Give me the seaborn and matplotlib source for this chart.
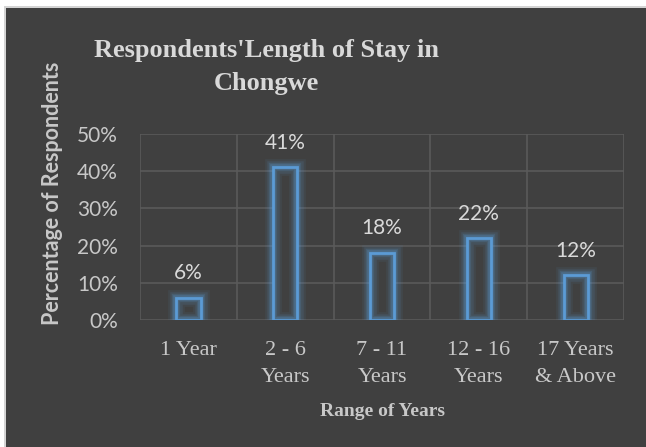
import matplotlib
matplotlib.use("Agg")
import matplotlib.pyplot as plt
import matplotlib.patches as mpatches
from matplotlib.ticker import FixedLocator, PercentFormatter
import seaborn as sns
import pandas as pd

# Data
categories = ["1 Year", "2 - 6\nYears", "7 - 11\nYears", "12 - 16\nYears", "17 Years\n& Above"]
percentages = [6, 41, 18, 22, 12]
y_ticks = [0, 10, 20, 30, 40, 50]

bg = "#404040"
grid_col = "#5a5a5a"
bar_col = "#5b9bd5"
text_col = "#d9d9d9"
tick_col = "#c8c8c8"

df = pd.DataFrame({"range": categories, "pct": percentages})

sns.set_style("dark")
fig = plt.figure(figsize=(6.46, 4.47), dpi=100)
fig.patch.set_facecolor(bg)
# white margin + thin light border on top / left
fig.add_artist(mpatches.Rectangle((0, 441 / 447), 1, 1, transform=fig.transFigure,
                                  facecolor="white", edgecolor="none", zorder=-2))
fig.add_artist(mpatches.Rectangle((0, 0), 4 / 646, 1, transform=fig.transFigure,
                                  facecolor="white", edgecolor="none", zorder=-2))
fig.add_artist(mpatches.Rectangle((4 / 646, 439 / 447), 1, 2 / 447, transform=fig.transFigure,
                                  facecolor="#d4d4d4", edgecolor="none", zorder=-1))
fig.add_artist(mpatches.Rectangle((4 / 646, 0), 2 / 646, 441 / 447, transform=fig.transFigure,
                                  facecolor="#d4d4d4", edgecolor="none", zorder=-1))

ax = fig.add_axes([140 / 646, 1 - 320 / 447, 484 / 646, 186 / 447])
ax.set_facecolor(bg)

sns.barplot(data=df, x="range", y="pct", ax=ax, width=0.25,
            facecolor=bg, edgecolor=bar_col, linewidth=2, zorder=3)

# soft glow around each bar
for p in list(ax.patches):
    p.set_facecolor("none")
    ax.add_patch(mpatches.Rectangle(p.get_xy(), p.get_width(), p.get_height(),
                                    facecolor=bg, edgecolor="none", zorder=1))
    for lw, a in [(12, 0.08), (9, 0.12), (6, 0.18), (4, 0.25)]:
        ax.add_patch(mpatches.Rectangle(p.get_xy(), p.get_width(), p.get_height(),
                                        facecolor="none", edgecolor=bar_col,
                                        linewidth=lw, alpha=a, zorder=2))

for i, v in enumerate(percentages):
    ax.text(i, v + 6.6, f"{v}%", ha="center", va="center",
            fontsize=15, color=text_col, family="Lato")

ax.set_xlim(-0.5, len(categories) - 0.5)
ax.set_ylim(0, 50)
ax.yaxis.set_major_locator(FixedLocator(y_ticks))
ax.yaxis.set_major_formatter(PercentFormatter(decimals=0))
ax.xaxis.set_minor_locator(FixedLocator([i - 0.5 for i in range(len(categories) + 1)]))
ax.grid(axis="y", which="major", color=grid_col, linewidth=1.2, zorder=0)
ax.grid(axis="x", which="minor", color=grid_col, linewidth=1.2, zorder=0)
ax.grid(axis="x", which="major", visible=False)
ax.set_axisbelow(True)
ax.tick_params(axis="both", which="both", length=0)
ax.tick_params(axis="y", pad=16, labelcolor=tick_col, labelsize=15)
ax.tick_params(axis="x", pad=15, labelcolor=tick_col, labelsize=16)
for lbl in ax.get_yticklabels():
    lbl.set_family("Lato")
for lbl in ax.get_xticklabels():
    lbl.set_family("Liberation Serif")
    lbl.set_linespacing(1.6)
for s in ax.spines.values():
    s.set_visible(False)

ax.set_xlabel("Range of Years", fontsize=14, fontweight="bold", color=tick_col,
              family="Liberation Serif", labelpad=11)
ax.set_ylabel("")
fig.text(53 / 646, 1 - 193 / 447, "Percentage of Respondents", rotation=90,
         ha="center", va="center", fontsize=15.5, fontweight="bold",
         color=tick_col, family="Lato")

fig.text(266 / 646, 1 - 67 / 447, "Respondents'Length of Stay in\nChongwe",
         ha="center", va="center", multialignment="center", fontsize=19,
         fontweight="bold", color=text_col, family="Liberation Serif", linespacing=1.6)

plt.savefig("out.png", dpi=100, facecolor=fig.get_facecolor())
